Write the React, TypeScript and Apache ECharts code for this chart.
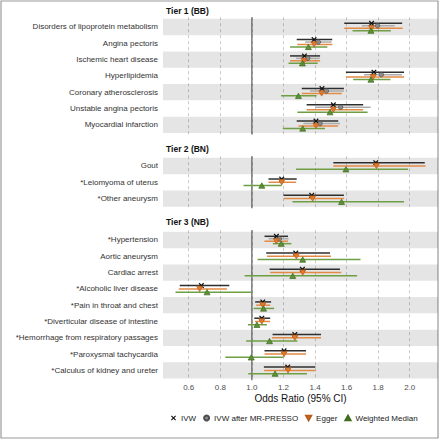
import React, { useEffect, useRef } from "react";
import * as echarts from "echarts";

const methods = ["IVW", "IVW after MR-PRESSO", "Egger", "Weighted Median"];
const xTicks = [0.6, 0.8, 1.0, 1.2, 1.4, 1.6, 1.8, 2.0];
const tierTitles = ["Tier 1 (BB)", "Tier 2 (BN)", "Tier 3 (NB)"];

const t1Labels = [
  "Disorders of lipoprotein metabolism",
  "Angina pectoris",
  "Ischemic heart disease",
  "Hyperlipidemia",
  "Coronary atherosclerosis",
  "Unstable angina pectoris",
  "Myocardial infarction",
];
const t2Labels = ["Gout", "*Leiomyoma of uterus", "*Other aneurysm"];
const t3Labels = [
  "*Hypertension",
  "Aortic aneurysm",
  "Cardiac arrest",
  "*Alcoholic liver disease",
  "*Pain in throat and chest",
  "*Diverticular disease of intestine",
  "*Hemorrhage from respiratory passages",
  "*Paroxysmal tachycardia",
  "*Calculus of kidney and ureter",
];

// [estimate, lower, upper]
const t1IVW = [[1.758, 1.585, 1.952], [1.394, 1.284, 1.509], [1.333, 1.242, 1.432], [1.773, 1.596, 1.964], [1.444, 1.316, 1.583], [1.516, 1.347, 1.705], [1.406, 1.284, 1.547]];
const t1Presso = [[1.796, 1.697, 1.905], [1.421, 1.337, 1.505], [1.354, 1.28, 1.43], [1.82, 1.71, 1.95], [1.472, 1.368, 1.583], [1.562, 1.4, 1.752], [1.432, 1.326, 1.558]];
const t1Egger = [[1.758, 1.585, 1.955], [1.394, 1.288, 1.51], [1.33, 1.242, 1.432], [1.768, 1.596, 1.964], [1.442, 1.316, 1.57], [1.516, 1.347, 1.705], [1.406, 1.295, 1.547]];
const t1WM = [[1.754, 1.638, 1.88], [1.358, 1.242, 1.478], [1.32, 1.232, 1.417], [1.754, 1.642, 1.878], [1.295, 1.185, 1.41], [1.495, 1.288, 1.733], [1.322, 1.196, 1.463]];

const t2IVW = [[1.785, 1.516, 2.095], [1.189, 1.105, 1.284], [1.379, 1.2, 1.583]];
const t2Presso = [null, null, null];
const t2Egger = [[1.789, 1.516, 2.1], [1.189, 1.105, 1.28], [1.385, 1.204, 1.583]];
const t2WM = [[1.596, 1.28, 1.989], [1.063, 0.947, 1.189], [1.568, 1.257, 1.964]];

const t3IVW = [[1.155, 1.08, 1.229], [1.278, 1.091, 1.495], [1.32, 1.112, 1.558], [0.68, 0.543, 0.857], [1.069, 1.021, 1.122], [1.063, 1.015, 1.116], [1.272, 1.131, 1.438], [1.204, 1.08, 1.343], [1.227, 1.076, 1.402]];
const t3Presso = [[1.174, 1.106, 1.233], null, null, null, null, null, null, null, null];
const t3Egger = [[1.155, 1.08, 1.229], [1.282, 1.096, 1.501], [1.322, 1.116, 1.566], [0.669, 0.537, 0.842], [1.069, 1.027, 1.116], [1.063, 1.019, 1.116], [1.272, 1.127, 1.438], [1.204, 1.08, 1.343], [1.229, 1.078, 1.402]];
const t3WM = [[1.186, 1.133, 1.25], [1.322, 1.036, 1.688], [1.259, 0.954, 1.667], [0.716, 0.516, 1.0], [1.074, 1.011, 1.141], [1.032, 0.975, 1.095], [1.112, 0.964, 1.288], [0.996, 0.832, 1.2], [1.147, 0.977, 1.349]];

const tiers = [
  { labels: t1Labels, data: [t1IVW, t1Presso, t1Egger, t1WM] },
  { labels: t2Labels, data: [t2IVW, t2Presso, t2Egger, t2WM] },
  { labels: t3Labels, data: [t3IVW, t3Presso, t3Egger, t3WM] },
];

const X_MIN = 0.437;
const X_MAX = 2.179;
const UNIT = 16.3;
const GRID_LEFT = 163;
const GRID_WIDTH = 275;
const gridTops = [17.2, 156.2, 230.2];
const titleYs = [11, 149, 222];

const lineColors = ["#2e2e2e", "#ababab", "#e38a45", "#6e9f45"];
const markerFill = ["#111111", "#8c8c8c", "#e07b2e", "#5e9236"];
const markerBorder = ["#111111", "#4d4d4d", "#b65d1c", "#3d6a1e"];
const crossPath = "path://M0,1.6L1.6,0L5,3.4L8.4,0L10,1.6L6.6,5L10,8.4L8.4,10L5,6.6L1.6,10L0,8.4L3.4,5Z";
const downTri = "path://M0,0L10,0L5,9Z";
const upTri = "path://M5,0L10,9L0,9Z";
const symbols = [crossPath, "circle", downTri, upTri];
const symbolSizes = [5.5, 4.5, 6, 6];

const FONT = "'Liberation Sans', Arial, sans-serif";

function buildOption() {
  const grid: any[] = [];
  const xAxis: any[] = [];
  const yAxis: any[] = [];
  const series: any[] = [];
  const graphic: any[] = [];

  tiers.forEach((tier, t) => {
    const n = tier.labels.length;
    grid.push({ left: GRID_LEFT, top: gridTops[t], width: GRID_WIDTH, height: (n + 0.2) * UNIT });
    const isLast = t === tiers.length - 1;
    xAxis.push({
      type: "value",
      gridIndex: t,
      min: X_MIN,
      max: X_MAX,
      axisLine: { show: false },
      axisTick: { show: false, customValues: xTicks },
      axisLabel: {
        show: isLast,
        customValues: xTicks,
        formatter: (v: number) => v.toFixed(1),
        color: "#4d4d4d",
        fontSize: 8,
        margin: 3,
        fontFamily: FONT,
      },
      splitLine: { show: true, lineStyle: { type: [3, 3], color: "#bdbdbd", width: 0.8 } },
    });
    const rows = tier.labels.map((_, i) => i);
    yAxis.push({
      type: "value",
      gridIndex: t,
      inverse: true,
      min: -0.6,
      max: n - 0.4,
      axisLine: { show: false },
      axisTick: { show: false, customValues: rows },
      splitLine: { show: false },
      axisLabel: {
        customValues: rows,
        formatter: (v: number) => tier.labels[Math.round(v)] ?? "",
        color: "#333333",
        fontSize: 8,
        margin: 5,
        fontFamily: FONT,
      },
    });

    // stripes
    series.push({
      type: "custom",
      name: "bands" + t,
      xAxisIndex: t,
      yAxisIndex: t,
      silent: true,
      z: 1,
      data: rows.filter((i) => i % 2 === 0).map((i) => [1, i]),
      encode: { x: 0, y: 1 },
      renderItem: (params: any, api: any) => {
        const i = api.value(1);
        const cs = params.coordSys;
        const y1 = api.coord([1, i - 0.5])[1];
        const y2 = api.coord([1, i + 0.5])[1];
        return {
          type: "rect",
          shape: { x: cs.x, y: Math.min(y1, y2), width: cs.width, height: Math.abs(y2 - y1) },
          style: { fill: "rgba(0,0,0,0.1)" },
        };
      },
    });
    // reference line at OR = 1
    series.push({
      type: "custom",
      name: "ref" + t,
      xAxisIndex: t,
      yAxisIndex: t,
      silent: true,
      z: 2,
      data: [[1, 0]],
      encode: { x: 0, y: 1 },
      renderItem: (params: any, api: any) => {
        const cs = params.coordSys;
        const x = api.coord([api.value(0), 0])[0];
        return {
          type: "line",
          shape: { x1: x, y1: cs.y, x2: x, y2: cs.y + cs.height },
          style: { stroke: "#5a5a5a", lineWidth: 1.2 },
        };
      },
    });

    // offsets per row
    const offsets: number[][] = rows.map((i) => {
      const present = tier.data.map((arr) => arr[i] != null);
      const k = present.filter(Boolean).length;
      const res: number[] = [];
      let j = 0;
      present.forEach((p, m) => {
        if (p) {
          res[m] = (j - (k - 1) / 2) * (0.6 / k);
          j++;
        }
      });
      return res;
    });

    tier.data.forEach((arr, m) => {
      const ciData: any[] = [];
      const ptData: any[] = [];
      arr.forEach((v: any, i: number) => {
        if (!v) return;
        const y = i + offsets[i][m];
        ciData.push([v[1], v[2], y]);
        ptData.push([v[0], y]);
      });
      if (!ptData.length) return;
      series.push({
        type: "custom",
        name: methods[m] + " CI",
        xAxisIndex: t,
        yAxisIndex: t,
        silent: true,
        z: 3,
        data: ciData,
        encode: { x: [0, 1], y: 2 },
        renderItem: (params: any, api: any) => {
          const p1 = api.coord([api.value(0), api.value(2)]);
          const p2 = api.coord([api.value(1), api.value(2)]);
          return {
            type: "line",
            shape: { x1: p1[0], y1: p1[1], x2: p2[0], y2: p2[1] },
            style: { stroke: lineColors[m], lineWidth: 1.5 },
          };
        },
      });
      series.push({
        type: "scatter",
        name: methods[m],
        xAxisIndex: t,
        yAxisIndex: t,
        silent: true,
        z: 4,
        symbol: symbols[m],
        symbolSize: symbolSizes[m],
        symbolKeepAspect: true,
        itemStyle: { color: markerFill[m], borderColor: markerBorder[m], borderWidth: m === 0 ? 0 : 0.7, opacity: 1 },
        data: ptData,
      });
    });

    graphic.push({
      type: "text",
      left: 166,
      top: titleYs[t] - 5,
      style: { text: tierTitles[t], font: `bold 8.5px ${FONT}`, fill: "#111" },
    });
  });

  graphic.push({
    type: "text",
    x: GRID_LEFT + GRID_WIDTH / 2,
    y: 398,
    style: { text: "Odds Ratio (95% CI)", font: `10px ${FONT}`, fill: "#111", align: "center", verticalAlign: "middle" },
  });
  graphic.push({
    type: "rect",
    shape: { x: 1, y: 1, width: 437, height: 437 },
    style: { fill: "none", stroke: "#9a9a9a", lineWidth: 1.2 },
    silent: true,
  });

  return {
    animation: false,
    textStyle: { fontFamily: FONT },
    grid,
    xAxis,
    yAxis,
    series,
    graphic,
    legend: {
      data: methods,
      left: 171,
      top: 414,
      itemWidth: 5,
      itemHeight: 5,
      itemGap: 7,
      padding: 0,
      selectedMode: false,
      textStyle: { fontSize: 8, color: "#222", fontFamily: FONT },
    },
  };
}

export default function App() {
  const ref = useRef<HTMLDivElement>(null);
  useEffect(() => {
    document.body.style.margin = "0";
    const chart = echarts.init(ref.current!, null, { renderer: "svg" });
    chart.setOption(buildOption() as any);
    return () => chart.dispose();
  }, []);
  return <div ref={ref} style={{ width: 440, height: 440, background: "#fff" }} />;
}
